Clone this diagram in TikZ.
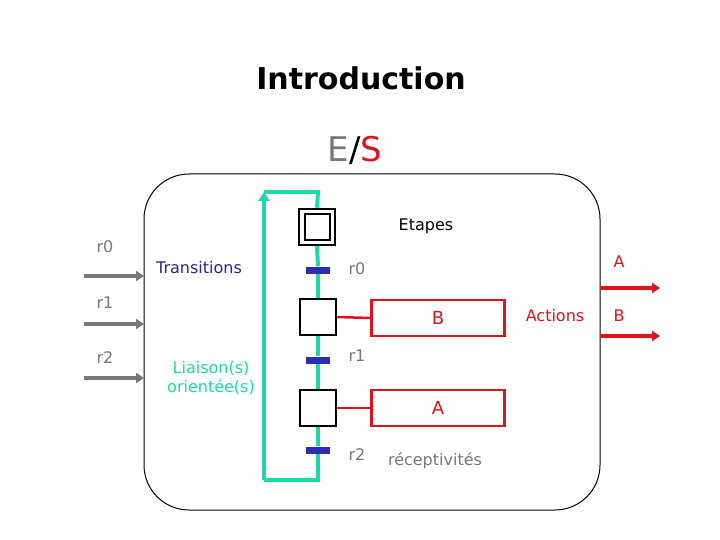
\documentclass[tikz,border=0pt]{standalone}
\usepackage{fontspec}
\setmainfont{DejaVu Sans}
\usetikzlibrary{arrows.meta}
\definecolor{grn}{RGB}{30,215,170}
\definecolor{blu}{RGB}{45,45,180}
\definecolor{rd}{RGB}{220,20,30}
\definecolor{gry}{RGB}{120,120,120}
\definecolor{tnavy}{RGB}{40,40,140}
\tikzset{
 stepbox/.style={draw,line width=2.5pt,minimum size=36pt,inner sep=0pt},
 actbox/.style={draw=rd,line width=2.5pt,minimum width=133pt,minimum height=36pt,text=rd,font=\fontsize{18}{21}\selectfont},
 trans/.style={fill=blu,minimum width=24pt,minimum height=7pt,inner sep=0pt},
 lbl/.style={font=\fontsize{16}{19}\selectfont,inner sep=0pt},
 inarrow/.style={draw=gry,line width=4pt,-{Triangle[length=8pt,width=10pt]}},
 outarrow/.style={draw=rd,line width=4pt,-{Triangle[length=8pt,width=10pt]}},
 grline/.style={draw=grn,line width=4pt}
}
\begin{document}
\begin{tikzpicture}[x=1pt,y=-1pt]
\useasboundingbox (0,0) rectangle (720,540);
\node (title) at (361,78) {\fontsize{30}{34}\selectfont\bfseries Introduction};
\node (es) at (355,150) {\fontsize{34}{40}\selectfont\textcolor{gry}{E}/\textcolor{rd}{S}};
\draw[line width=1pt,rounded corners=45pt] (144,174) rectangle (600,510);
\node[stepbox] (s0) at (317,227) {};
\node[draw,line width=2pt,minimum size=25pt,inner sep=0pt] (s0i) at (s0) {};
\node[stepbox] (s1) at (318,317) {};
\node[stepbox] (s2) at (318,408) {};
\node[trans] (t0) at (318,270) {};
\node[trans] (t1) at (318,360) {};
\node[trans] (t2) at (318,450) {};
\coordinate (bl) at (318,480);
\coordinate (bll) at (264,480);
\coordinate (tl) at (264,192);
\coordinate (tr) at (318,192);
\draw[grline] (s0.south) -- (t0.north);
\draw[grline] (t0.south) -- (s1.north);
\draw[grline] (s1.south) -- (t1.north);
\draw[grline] (t1.south) -- (s2.north);
\draw[grline] (s2.south) -- (t2.north);
\draw[grline] (t2.south) -- (bl) -- (bll);
\draw[grn,-{Triangle[length=9pt,width=11pt]},line width=4pt] (bll) -- (tl);
\draw[grline] (tl) -- (tr) -- (s0.north);
\node[actbox] (aB) at (438,318) {B};
\node[actbox] (aA) at (438,408) {A};
\draw[rd,line width=2.5pt] (s1.east) -- (aB.west);
\draw[rd,line width=2.5pt] (s2.east) -- (aA.west);
\node[lbl] (etapes) at (426,226) {Etapes};
\node[lbl,text=gry] (lr0) at (357,269) {r0};
\node[lbl,text=gry] (lr1) at (357,356) {r1};
\node[lbl,text=gry] (lr2) at (357,455) {r2};
\node[lbl,text=gry] (recep) at (435,461) {réceptivités};
\node[lbl,text=tnavy] (trlab) at (199,268) {Transitions};
\node[lbl,text=grn,align=center] (liais) at (211,378) {Liaison(s)\\orientée(s)};
\node[lbl,text=rd] (actions) at (555,316) {Actions};
\coordinate (i0) at (84,276); \coordinate (i0e) at (144,276);
\coordinate (i1) at (84,324); \coordinate (i1e) at (144,324);
\coordinate (i2) at (84,378); \coordinate (i2e) at (144,378);
\draw[inarrow] (i0) -- (i0e);
\draw[inarrow] (i1) -- (i1e);
\draw[inarrow] (i2) -- (i2e);
\node[lbl,text=gry] (ir0) at (105,247) {r0};
\node[lbl,text=gry] (ir1) at (105,303) {r1};
\node[lbl,text=gry] (ir2) at (105,358) {r2};
\coordinate (o0) at (600,288); \coordinate (o0e) at (660,288);
\coordinate (o1) at (600,336); \coordinate (o1e) at (660,336);
\draw[outarrow] (o0) -- (o0e);
\draw[outarrow] (o1) -- (o1e);
\node[lbl,text=rd] (oA) at (619,262) {A};
\node[lbl,text=rd] (oB) at (619,316) {B};
\end{tikzpicture}
\end{document}
